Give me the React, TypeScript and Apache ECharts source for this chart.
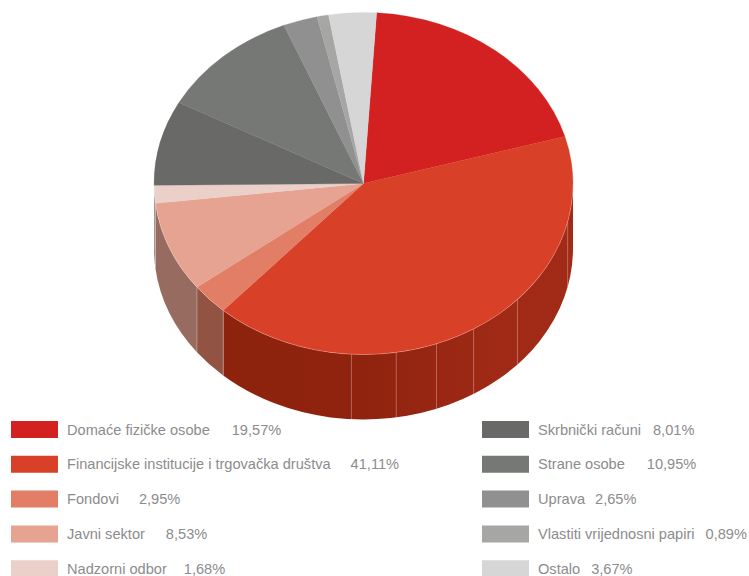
import React, { useEffect, useRef } from "react";
import * as echarts from "echarts";

const categories = [
  "Domaće fizičke osobe",
  "Financijske institucije i trgovačka društva",
  "Fondovi",
  "Javni sektor",
  "Nadzorni odbor",
  "Skrbnički računi",
  "Strane osobe",
  "Uprava",
  "Vlastiti vrijednosni papiri",
  "Ostalo",
];
const shares = [19.57, 41.11, 2.95, 8.53, 1.68, 8.01, 10.95, 2.65, 0.89, 3.67];
const shareLabels = ["19,57%", "41,11%", "2,95%", "8,53%", "1,68%", "8,01%", "10,95%", "2,65%", "0,89%", "3,67%"];
const topColors = ["#d32020", "#d94028", "#e27d66", "#e6a391", "#ebd0ca", "#696a67", "#767876", "#8f908f", "#a6a7a5", "#d6d6d6"];
const wallColors = ["#a02a16", "#8e220e", "#925343", "#976b60", "#9a7f78", "#6a6a68", "#6a6a68", "#6a6a68", "#6a6a68", "#6a6a68"];
const labelGaps = [22, 20, 20, 21, 17, 12, 22, 10, 11, 11];
const finWallSeams = [103, 132.7, 148.3, 159.6, 171, 183.3];

const START_DEG = 3.6;
const CX = 363.5;
const CY = 183.5;
const RX = 209.5;
const RY = 171;
const DEPTH = 65;
const FONT = "Liberation Sans";
const FONT_SIZE = 14.6;
const TEXT_COLOR = "#8c8c8c";

const total = shares.reduce((a, b) => a + b, 0);

function pt(deg: number, dy = 0): [number, number] {
  const r = (deg * Math.PI) / 180;
  return [CX + RX * Math.sin(r), CY + dy - RY * Math.cos(r)];
}

function topPath(a0: number, a1: number) {
  const [x0, y0] = pt(a0);
  const [x1, y1] = pt(a1);
  return `M${CX} ${CY}L${x0} ${y0}A${RX} ${RY} 0 ${a1 - a0 > 180 ? 1 : 0} 1 ${x1} ${y1}Z`;
}

function rimPath(a0: number, a1: number) {
  const [x0, y0] = pt(a0);
  const [x1, y1] = pt(a1);
  return `M${x0} ${y0}A${RX} ${RY} 0 0 1 ${x1} ${y1}`;
}

function wallPath(a0: number, a1: number) {
  const [x0, y0] = pt(a0);
  const [x1, y1] = pt(a1);
  const [x2, y2] = pt(a1, DEPTH);
  const [x3, y3] = pt(a0, DEPTH);
  return `M${x0} ${y0}A${RX} ${RY} 0 0 1 ${x1} ${y1}L${x2} ${y2}A${RX} ${RY} 0 0 0 ${x3} ${y3}Z`;
}

function seam(deg: number) {
  const [x1, y1] = pt(deg);
  const [x2, y2] = pt(deg, DEPTH);
  return {
    type: "line",
    z2: 5,
    shape: { x1, y1, x2, y2 },
    style: { stroke: "rgba(255,255,255,0.3)", lineWidth: 1 },
  };
}

function buildOption() {
  let acc = START_DEG;
  const series = categories.map((name, i) => {
    const a0 = acc;
    const a1 = acc + (shares[i] / total) * 360;
    acc = a1;
    return {
      type: "custom",
      name,
      coordinateSystem: "none",
      silent: true,
      itemStyle: { color: topColors[i] },
      data: [[a0, a1, shares[i]]],
      renderItem: (_p: any, api: any) => {
        const s = api.value(0) as number;
        const e = api.value(1) as number;
        const children: any[] = [];
        const w0 = Math.max(s, 90);
        const w1 = Math.min(e, 270);
        if (w1 > w0) {
          const fill =
            i === 1
              ? new echarts.graphic.LinearGradient(0, 0, 1, 0, [
                  { offset: 0, color: "#8d220d" },
                  { offset: 0.4, color: "#8f230e" },
                  { offset: 0.8, color: "#a02a16" },
                  { offset: 1, color: "#a22b17" },
                ])
              : wallColors[i];
          children.push({
            type: "path",
            z2: 1,
            shape: { pathData: wallPath(w0, w1) },
            style: { fill, stroke: null },
          });
          if (i === 1) finWallSeams.forEach((d) => children.push(seam(d)));
          if (e < 270) children.push(seam(e));
        }
        children.push({
          type: "path",
          z2: 10,
          shape: { pathData: topPath(s, e) },
          style: { fill: topColors[i], stroke: topColors[i], lineWidth: 0.3 },
        });
        if (w1 > w0) {
          children.push({
            type: "path",
            z2: 11,
            shape: { pathData: rimPath(w0, w1) },
            style: { fill: null, stroke: "rgba(255,255,255,0.28)", lineWidth: 0.8 },
          });
        }
        return { type: "group", children };
      },
    };
  });

  const rich: Record<string, any> = {
    n: { fontFamily: FONT, fontSize: FONT_SIZE, color: TEXT_COLOR, padding: [0, 0, 0, 4] },
  };
  labelGaps.forEach((g, i) => {
    rich[`p${i}`] = { fontFamily: FONT, fontSize: FONT_SIZE, color: TEXT_COLOR, padding: [0, 0, 0, g] };
  });
  const formatter = (name: string) => {
    const i = categories.indexOf(name);
    return `{n|${name}}{p${i}|${shareLabels[i]}}`;
  };
  const legendBase = {
    orient: "vertical",
    top: 421,
    height: 200,
    padding: 0,
    itemWidth: 47,
    itemHeight: 17,
    itemGap: 17.8,
    icon: "rect",
    selectedMode: false,
    formatter,
    textStyle: { rich, fontFamily: FONT, fontSize: FONT_SIZE, color: TEXT_COLOR },
  };

  return {
    animation: false,
    backgroundColor: "#ffffff",
    legend: [
      { ...legendBase, left: 11, data: categories.slice(0, 5) },
      { ...legendBase, left: 482, data: categories.slice(5) },
    ],
    series,
  };
}

export default function App() {
  const ref = useRef<HTMLDivElement>(null);
  useEffect(() => {
    document.body.style.margin = "0";
    const chart = echarts.init(ref.current!, null, { renderer: "svg" });
    chart.setOption(buildOption() as any);
    return () => chart.dispose();
  }, []);
  return <div ref={ref} style={{ width: 749, height: 576, overflow: "hidden" }} />;
}
